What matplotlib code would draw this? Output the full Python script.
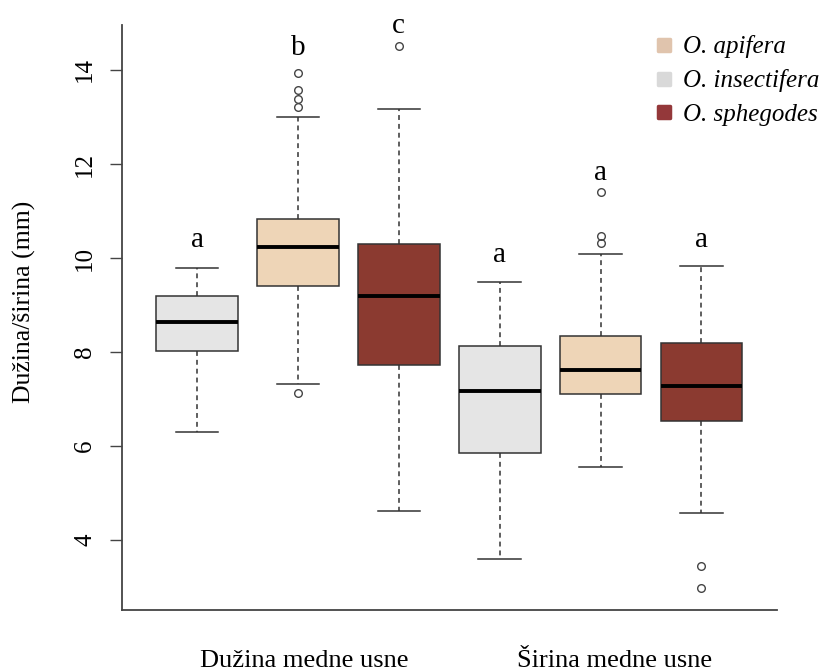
import matplotlib
matplotlib.use("Agg")
import matplotlib.pyplot as plt
from matplotlib.lines import Line2D
from matplotlib.markers import MarkerStyle

plt.rcParams['font.family'] = ['Liberation Serif', 'DejaVu Serif']

# data (mm)
groups = ['Dužina medne usne', 'Širina medne usne']
species = ['O. insectifera', 'O. apifera', 'O. sphegodes']  # order of boxes inside a group
legend_order = ['O. apifera', 'O. insectifera', 'O. sphegodes']

whislo = [6.29, 7.31, 4.62, 3.60, 5.56, 4.57]
q1 = [8.02, 9.40, 7.72, 5.86, 7.10, 6.53]
med = [8.64, 10.23, 9.20, 7.16, 7.62, 7.28]
q3 = [9.19, 10.83, 10.30, 8.13, 8.35, 8.20]
whishi = [9.79, 13.00, 13.18, 9.50, 10.08, 9.84]
fliers = [[], [7.12, 13.22, 13.38, 13.57, 13.94], [14.50],
          [], [10.31, 10.47, 11.40], [3.45, 2.97]]

letters = ['a', 'b', 'c', 'a', 'a', 'a']
letter_y = [10.24, 14.32, 14.78, 9.92, 11.66, 10.24]

box_colors = {'O. insectifera': '#E5E5E5', 'O. apifera': '#EED5B7', 'O. sphegodes': '#8B3A30'}
legend_colors = {'O. apifera': '#E0C4AD', 'O. insectifera': '#D9D9D9', 'O. sphegodes': '#94383A'}

positions = [1, 2, 3, 4, 5, 6]
group_pos = [2.06, 5.14]

fig = plt.figure(figsize=(8.29, 6.71), dpi=100)
ax = fig.add_axes([122 / 829, 61 / 671, 655 / 829, 585.5 / 671])

stats = []
for i in range(6):
    stats.append(dict(whislo=whislo[i], q1=q1[i], med=med[i], q3=q3[i],
                      whishi=whishi[i], fliers=fliers[i]))

bp = ax.bxp(stats, positions=positions, widths=0.81, capwidths=0.42,
            patch_artist=True, manage_ticks=False,
            boxprops=dict(edgecolor='#333333', linewidth=1.1),
            medianprops=dict(color='black', linewidth=2.8, solid_capstyle='butt'),
            whiskerprops=dict(color='#333333', linewidth=1.1, linestyle=(0, (3.2, 2.6))),
            capprops=dict(color='#333333', linewidth=1.1),
            flierprops=dict(marker='o', markersize=5.5, markerfacecolor='none',
                            markeredgecolor='#444444', markeredgewidth=1.0))

for i, patch in enumerate(bp['boxes']):
    patch.set_facecolor(box_colors[species[i % 3]])

for x, t, y in zip(positions, letters, letter_y):
    ax.text(x, y, t, ha='center', va='baseline', fontsize=21)

ax.set_xlim(0.255, 6.75)
ax.set_ylim(2.511, 14.968)

ax.set_yticks([4, 6, 8, 10, 12, 14])
ax.tick_params(axis='y', length=8.6, width=1.0, color='#444444', pad=10,
               labelsize=18, labelrotation=90)
for lab in ax.get_yticklabels():
    lab.set_va('center')

ax.set_xticks(group_pos, groups)
ax.tick_params(axis='x', length=0, pad=41, labelsize=19)
for lab in ax.get_xticklabels():
    lab.set_va('baseline')

ax.set_ylabel('Dužina/širina (mm)', fontsize=18.5)
ax.yaxis.set_label_coords(-0.132, 0.526)

for side in ['top', 'right']:
    ax.spines[side].set_visible(False)
for side in ['left', 'bottom']:
    ax.spines[side].set_color('#444444')
    ax.spines[side].set_linewidth(1.3)

handles = [Line2D([], [], linestyle='none', marker=MarkerStyle('s', joinstyle='round'),
                  markersize=9, markerfacecolor=legend_colors[s],
                  markeredgecolor=legend_colors[s], markeredgewidth=2.5)
           for s in legend_order]
ax.legend(handles, legend_order, loc='upper left',
          bbox_to_anchor=(654 / 829, 1 - 35.5 / 671), bbox_transform=fig.transFigure,
          frameon=False, borderpad=0, borderaxespad=0, handlelength=0.8,
          handletextpad=0.35, labelspacing=0.43,
          prop=dict(family='Liberation Serif', style='italic', size=18))

fig.savefig('out.png', dpi=100)
